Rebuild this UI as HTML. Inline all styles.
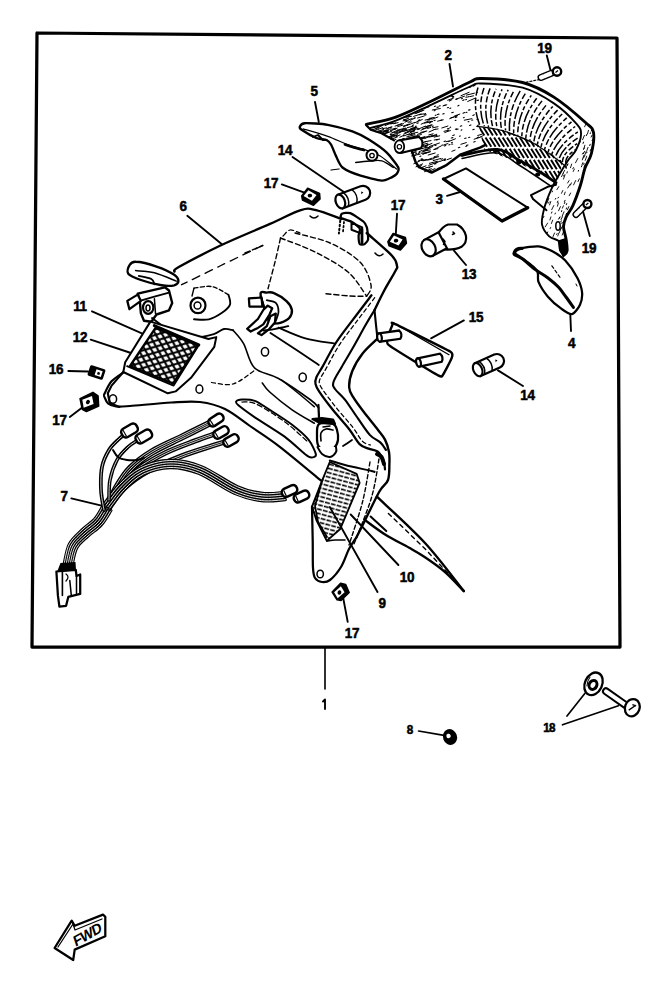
<!DOCTYPE html>
<html><head><meta charset="utf-8"><style>
html,body{margin:0;padding:0;background:#fff;width:671px;height:993px;overflow:hidden}
svg{position:absolute;left:0;top:0;font-family:"Liberation Sans",sans-serif}
</style></head><body>
<svg width="671" height="993" viewBox="0 0 671 993">
<defs><clipPath id="cfs"><path d="M479,127 L503.7,130 L532.3,141 L563,161.5 L557,183 L541.5,174.5 L514.7,161 L484,149.5 Z"/></clipPath><pattern id="mesh" patternUnits="userSpaceOnUse" width="9" height="7.2" patternTransform="rotate(22)"><path d="M-1,-0.8 L10,8 M10,-0.8 L-1,8" stroke="#000" stroke-width="2.0"/></pattern><pattern id="rmesh" patternUnits="userSpaceOnUse" width="6" height="4.2" patternTransform="rotate(15)"><path d="M0,2 L4.8,2" stroke="#000" stroke-width="1.6"/></pattern></defs>
<path d="M37.0,33.0 L617.0,38.0 L620.0,647.0 L32.0,647.0 Z" stroke="#000" stroke-width="3.25" fill="none" stroke-linecap="round" stroke-linejoin="round" />
<line x1="325.0" y1="647.0" x2="325.0" y2="689.0" stroke="#000" stroke-width="1.62" stroke-linecap="round" />
<path d="M323,701.5 L325,699.5 L325,709" stroke="#000" stroke-width="1.88" fill="none" stroke-linecap="round" stroke-linejoin="round" />
<text transform="translate(448.0,54.6) scale(0.9,1)" x="0" y="0" font-size="15" font-weight="bold" letter-spacing="-0.3" text-anchor="middle" dominant-baseline="central" stroke="#000" stroke-width="0.55">2</text>
<text transform="translate(544.5,47.6) scale(0.9,1)" x="0" y="0" font-size="15" font-weight="bold" letter-spacing="-0.3" text-anchor="middle" dominant-baseline="central" stroke="#000" stroke-width="0.55">19</text>
<text transform="translate(314.0,90.6) scale(0.9,1)" x="0" y="0" font-size="15" font-weight="bold" letter-spacing="-0.3" text-anchor="middle" dominant-baseline="central" stroke="#000" stroke-width="0.55">5</text>
<text transform="translate(285.0,149.6) scale(0.9,1)" x="0" y="0" font-size="15" font-weight="bold" letter-spacing="-0.3" text-anchor="middle" dominant-baseline="central" stroke="#000" stroke-width="0.55">14</text>
<text transform="translate(271.0,182.6) scale(0.9,1)" x="0" y="0" font-size="15" font-weight="bold" letter-spacing="-0.3" text-anchor="middle" dominant-baseline="central" stroke="#000" stroke-width="0.55">17</text>
<text transform="translate(398.0,204.6) scale(0.9,1)" x="0" y="0" font-size="15" font-weight="bold" letter-spacing="-0.3" text-anchor="middle" dominant-baseline="central" stroke="#000" stroke-width="0.55">17</text>
<text transform="translate(439.0,198.6) scale(0.9,1)" x="0" y="0" font-size="15" font-weight="bold" letter-spacing="-0.3" text-anchor="middle" dominant-baseline="central" stroke="#000" stroke-width="0.55">3</text>
<text transform="translate(183.0,205.6) scale(0.9,1)" x="0" y="0" font-size="15" font-weight="bold" letter-spacing="-0.3" text-anchor="middle" dominant-baseline="central" stroke="#000" stroke-width="0.55">6</text>
<text transform="translate(589.0,247.6) scale(0.9,1)" x="0" y="0" font-size="15" font-weight="bold" letter-spacing="-0.3" text-anchor="middle" dominant-baseline="central" stroke="#000" stroke-width="0.55">19</text>
<text transform="translate(469.0,273.6) scale(0.9,1)" x="0" y="0" font-size="15" font-weight="bold" letter-spacing="-0.3" text-anchor="middle" dominant-baseline="central" stroke="#000" stroke-width="0.55">13</text>
<text transform="translate(476.0,316.6) scale(0.9,1)" x="0" y="0" font-size="15" font-weight="bold" letter-spacing="-0.3" text-anchor="middle" dominant-baseline="central" stroke="#000" stroke-width="0.55">15</text>
<text transform="translate(571.7,342.6) scale(0.9,1)" x="0" y="0" font-size="15" font-weight="bold" letter-spacing="-0.3" text-anchor="middle" dominant-baseline="central" stroke="#000" stroke-width="0.55">4</text>
<text transform="translate(80.0,305.6) scale(0.9,1)" x="0" y="0" font-size="15" font-weight="bold" letter-spacing="-0.3" text-anchor="middle" dominant-baseline="central" stroke="#000" stroke-width="0.55">11</text>
<text transform="translate(80.0,336.6) scale(0.9,1)" x="0" y="0" font-size="15" font-weight="bold" letter-spacing="-0.3" text-anchor="middle" dominant-baseline="central" stroke="#000" stroke-width="0.55">12</text>
<text transform="translate(56.0,368.6) scale(0.9,1)" x="0" y="0" font-size="15" font-weight="bold" letter-spacing="-0.3" text-anchor="middle" dominant-baseline="central" stroke="#000" stroke-width="0.55">16</text>
<text transform="translate(59.5,419.6) scale(0.9,1)" x="0" y="0" font-size="15" font-weight="bold" letter-spacing="-0.3" text-anchor="middle" dominant-baseline="central" stroke="#000" stroke-width="0.55">17</text>
<text transform="translate(527.5,394.6) scale(0.9,1)" x="0" y="0" font-size="15" font-weight="bold" letter-spacing="-0.3" text-anchor="middle" dominant-baseline="central" stroke="#000" stroke-width="0.55">14</text>
<text transform="translate(64.0,495.6) scale(0.9,1)" x="0" y="0" font-size="15" font-weight="bold" letter-spacing="-0.3" text-anchor="middle" dominant-baseline="central" stroke="#000" stroke-width="0.55">7</text>
<text transform="translate(407.0,576.6) scale(0.9,1)" x="0" y="0" font-size="15" font-weight="bold" letter-spacing="-0.3" text-anchor="middle" dominant-baseline="central" stroke="#000" stroke-width="0.55">10</text>
<text transform="translate(382.0,602.6) scale(0.9,1)" x="0" y="0" font-size="15" font-weight="bold" letter-spacing="-0.3" text-anchor="middle" dominant-baseline="central" stroke="#000" stroke-width="0.55">9</text>
<text transform="translate(352.0,632.6) scale(0.9,1)" x="0" y="0" font-size="15" font-weight="bold" letter-spacing="-0.3" text-anchor="middle" dominant-baseline="central" stroke="#000" stroke-width="0.55">17</text>
<text transform="translate(410.0,730.1) scale(0.9,1)" x="0" y="0" font-size="13" font-weight="bold" letter-spacing="0" text-anchor="middle" dominant-baseline="central" stroke="#000" stroke-width="0.55">8</text>
<text transform="translate(549.0,727.6) scale(0.9,1)" x="0" y="0" font-size="13" font-weight="bold" letter-spacing="-0.8" text-anchor="middle" dominant-baseline="central" stroke="#000" stroke-width="0.55">18</text>
<line x1="449.5" y1="64.0" x2="453.0" y2="86.5" stroke="#000" stroke-width="1.88" stroke-linecap="round" />
<line x1="546.8" y1="55.5" x2="550.4" y2="69.8" stroke="#000" stroke-width="1.88" stroke-linecap="round" />
<line x1="315.0" y1="102.0" x2="318.8" y2="122.0" stroke="#000" stroke-width="1.88" stroke-linecap="round" />
<line x1="292.5" y1="157.0" x2="345.0" y2="192.7" stroke="#000" stroke-width="1.88" stroke-linecap="round" />
<line x1="281.8" y1="184.4" x2="304.4" y2="192.7" stroke="#000" stroke-width="1.88" stroke-linecap="round" />
<line x1="397.0" y1="213.7" x2="395.8" y2="234.0" stroke="#000" stroke-width="1.88" stroke-linecap="round" />
<line x1="447.0" y1="195.8" x2="460.0" y2="192.0" stroke="#000" stroke-width="1.88" stroke-linecap="round" />
<line x1="187.3" y1="215.8" x2="221.6" y2="244.0" stroke="#000" stroke-width="1.88" stroke-linecap="round" />
<line x1="582.6" y1="210.0" x2="589.8" y2="236.0" stroke="#000" stroke-width="1.88" stroke-linecap="round" />
<line x1="454.0" y1="250.7" x2="466.0" y2="265.0" stroke="#000" stroke-width="1.88" stroke-linecap="round" />
<line x1="463.9" y1="320.4" x2="431.1" y2="338.3" stroke="#000" stroke-width="1.88" stroke-linecap="round" />
<line x1="570.3" y1="314.3" x2="571.0" y2="331.0" stroke="#000" stroke-width="1.88" stroke-linecap="round" />
<line x1="92.0" y1="311.3" x2="156.0" y2="339.6" stroke="#000" stroke-width="1.88" stroke-linecap="round" />
<line x1="90.7" y1="339.6" x2="131.0" y2="353.0" stroke="#000" stroke-width="1.88" stroke-linecap="round" />
<line x1="68.3" y1="371.0" x2="88.0" y2="371.5" stroke="#000" stroke-width="1.88" stroke-linecap="round" />
<line x1="69.8" y1="417.0" x2="83.2" y2="406.7" stroke="#000" stroke-width="1.88" stroke-linecap="round" />
<line x1="498.0" y1="370.4" x2="523.0" y2="386.0" stroke="#000" stroke-width="1.88" stroke-linecap="round" />
<line x1="71.3" y1="498.4" x2="102.6" y2="505.8" stroke="#000" stroke-width="1.88" stroke-linecap="round" />
<line x1="398.4" y1="565.0" x2="350.7" y2="514.5" stroke="#000" stroke-width="1.88" stroke-linecap="round" />
<line x1="377.5" y1="592.0" x2="329.8" y2="507.0" stroke="#000" stroke-width="1.88" stroke-linecap="round" />
<line x1="347.7" y1="621.8" x2="343.2" y2="598.0" stroke="#000" stroke-width="1.88" stroke-linecap="round" />
<line x1="418.6" y1="731.0" x2="444.0" y2="735.4" stroke="#000" stroke-width="1.69" stroke-linecap="round" />
<line x1="567.0" y1="716.0" x2="584.8" y2="693.5" stroke="#000" stroke-width="1.69" stroke-linecap="round" />
<line x1="562.5" y1="724.8" x2="618.4" y2="705.8" stroke="#000" stroke-width="1.69" stroke-linecap="round" />
<path d="M394.7,133.1L401.1,131.3 M411.6,155.9L420.1,154.1 M417.7,140.5L423.4,138.5 M406.7,136.9L414.9,134.7 M432.3,110.0L440.3,108.5 M415.7,138.4L418.9,137.7 M414.9,136.3L421.4,134.5 M420.5,145.1L427.5,143.3 M397.1,125.3L401.7,123.6 M404.2,117.5L408.7,115.9 M433.7,149.6L437.9,148.6 M418.1,146.7L422.8,145.0 M414.4,122.9L422.3,119.5 M423.2,153.9L427.2,152.7 M440.4,161.3L444.7,159.6 M378.3,129.3L382.8,127.6 M382.4,134.3L387.2,132.1 M410.6,128.7L415.9,127.2 M429.3,146.5L434.6,144.7 M467.7,101.5L475.0,98.2 M425.5,148.1L432.8,146.6 M433.3,158.1L437.1,156.6 M410.2,120.3L415.2,118.0 M424.5,171.7L431.3,168.7 M391.3,136.5L395.6,135.3 M421.6,138.0L429.4,136.2 M404.9,122.2L408.1,120.8 M434.7,144.7L439.4,143.0 M411.2,153.1L415.8,151.8 M444.8,132.5L450.4,130.5 M371.9,130.0L379.1,127.4 M405.2,121.1L412.3,118.4 M428.8,134.9L433.2,133.8 M411.1,133.6L417.8,132.3 M424.8,141.8L431.0,140.6 M377.2,132.3L382.0,131.2 M419.0,151.8L422.3,150.3 M386.1,129.1L392.0,127.0 M411.1,131.8L415.1,129.9 M385.1,125.6L389.1,123.9 M388.4,127.9L391.4,126.9 M414.8,147.2L419.9,145.4 M421.8,167.5L426.0,165.8 M480.0,137.1L482.9,135.8 M437.7,168.4L442.4,167.4 M422.1,108.9L429.1,106.8 M406.2,117.3L411.5,116.3 M443.0,105.9L446.8,104.8 M392.2,134.9L399.5,132.8 M461.0,95.7L469.1,92.3 M390.9,133.3L397.6,130.2 M407.2,127.7L413.3,126.2 M421.6,153.4L430.4,151.7 M403.0,120.9L406.8,120.0 M403.4,126.1L409.3,124.0 M383.9,131.9L387.5,130.2 M413.6,116.4L421.1,113.9 M402.7,131.1L410.6,129.4 M474.1,139.2L480.2,137.3 M405.2,119.5L408.7,118.1 M375.9,131.7L383.7,129.5 M446.2,141.7L449.4,140.9 M429.2,118.4L434.4,117.4 M424.7,146.9L427.6,145.8 M420.7,132.4L426.8,131.0 M389.9,138.2L397.3,135.1 M466.4,95.1L474.4,93.2 M424.7,150.1L431.1,147.6 M418.5,139.3L423.9,138.1 M429.4,163.3L437.4,161.3 M425.1,120.1L431.8,118.6 M411.9,130.2L418.4,128.4 M434.9,163.5L439.8,161.2 M422.0,160.4L426.6,159.5 M444.0,131.3L448.7,130.3 M383.4,131.7L388.4,130.5 M416.4,113.2L424.0,110.1 M393.7,123.7L398.1,122.6 M428.0,160.0L434.1,158.7 M418.1,129.2L425.4,126.1 M432.0,119.3L437.9,117.0 M392.0,129.3L395.5,128.2 M427.4,120.0L431.8,118.4 M421.2,124.2L429.2,120.7 M433.9,129.6L438.1,128.9 M397.5,130.1L405.5,128.1 M424.7,146.3L432.0,143.4 M431.4,136.5L434.4,135.2 M450.8,117.8L456.9,116.2 M423.1,150.3L429.1,148.6 M470.1,96.6L473.5,95.8 M447.7,100.2L453.4,98.1 M419.5,143.8L423.6,142.4 M403.7,136.0L409.9,133.6 M428.7,122.2L432.0,121.4 M382.5,128.7L386.9,127.8 M403.3,126.9L407.7,124.9 M416.4,147.8L421.4,146.1 M397.7,126.6L402.7,125.2 M396.0,136.7L400.1,134.9 M415.0,113.6L422.9,110.4 M392.8,132.9L397.9,131.2 M404.6,133.0L409.2,131.2 M422.7,154.2L429.9,151.8 M427.2,159.9L432.1,158.1 M422.6,128.7L428.3,127.2 M425.6,167.9L432.6,166.2 M429.0,171.3L435.0,168.6 M406.6,138.4L415.0,136.1 M419.9,143.5L426.3,141.5 M375.7,128.4L382.4,125.6 M433.0,135.9L436.7,134.3 M460.9,144.3L466.3,142.6 M410.9,132.2L413.6,130.9 M448.5,141.6L455.4,138.8 M415.5,147.1L423.9,145.3 M447.0,159.7L451.4,158.1 M407.6,140.3L415.0,136.6 M441.8,128.0L447.9,126.0 M434.0,157.6L438.7,156.7 M418.2,141.4L422.8,140.5 M433.2,160.6L440.7,158.5 M380.8,131.5L389.2,129.6 M421.9,152.1L427.6,149.7 M432.6,127.8L438.0,126.7 M380.8,133.4L386.9,131.1 M434.2,140.0L439.6,139.1 M390.7,123.9L395.7,122.9 M395.0,126.1L403.5,123.6 M415.3,138.1L419.5,136.6 M420.8,147.6L428.1,144.3 M385.1,133.8L392.0,131.1 M390.2,130.7L395.8,129.1 M440.4,167.5L444.4,166.8 M428.2,155.0L435.2,153.0 M411.7,128.5L416.4,127.3 M456.2,99.1L464.5,96.2 M423.2,151.2L430.4,149.9 M417.6,134.4L425.8,131.4 M423.1,160.8L427.1,159.9 M419.2,114.8L423.4,113.9 M382.7,134.1L388.5,132.2 M464.3,120.2L471.9,118.7 M389.3,123.9L393.0,122.7 M410.2,132.5L414.7,130.8 M418.6,160.6L423.2,159.5 M400.4,139.9L403.5,138.6 M410.5,130.1L417.0,127.5 M454.5,116.0L459.8,114.1 M413.3,138.2L418.8,136.6 M374.8,130.3L378.6,128.8 M400.8,131.1L405.6,129.3 M393.8,129.2L397.2,128.2 M429.1,137.1L437.1,135.4 M434.4,149.3L441.3,145.9 M409.8,138.3L417.6,136.4 M425.5,126.7L432.2,125.0 M399.8,137.2L403.9,135.3 M407.7,131.5L415.6,127.9 M414.7,150.9L419.0,149.2 M408.1,135.0L414.5,133.6 M391.0,139.3L397.4,136.9 M411.7,151.9L415.5,150.0 M451.9,151.3L455.1,150.1 M389.9,136.4L394.9,135.3 M428.8,165.3L437.2,162.2 M477.7,135.5L481.7,134.3 M416.0,166.8L422.6,163.9 M429.0,132.0L435.2,129.2 M397.8,130.8L406.4,128.5 M424.8,138.5L432.6,135.2 M426.1,126.7L431.5,124.8 M424.4,123.1L432.6,121.6 M407.3,125.3L414.5,122.5 M413.8,163.7L420.0,160.9 M398.9,140.2L404.4,138.5 M403.6,134.2L409.7,131.6 M420.9,130.2L428.4,127.1 M399.9,131.9L407.3,130.5 M417.5,118.0L424.3,116.0 M416.3,147.0L422.4,145.1 M413.5,148.4L417.3,147.5 M443.6,145.0L447.9,143.6 M434.2,137.1L439.7,135.8 M418.4,149.6L427.0,147.2 M417.3,138.8L424.7,136.7 M437.6,121.2L443.2,119.8 M427.6,128.5L430.7,127.4 M449.7,118.7L453.8,117.0 M388.3,137.0L392.8,135.2" stroke="#000" stroke-width="1.0" stroke-linecap="round" fill="none"/>
<path d="M451.5,94.7L452.6,94.5 M451.0,96.3L452.7,95.9 M451.7,112.7L453.3,112.2 M465.7,99.8L466.5,99.4 M432.2,126.4L433.3,126.0 M420.1,148.4L421.3,148.1 M455.8,99.4L457.0,99.1 M410.9,134.8L411.9,134.6 M408.1,116.4L409.6,115.7 M414.7,152.3L416.4,152.0 M461.0,90.7L462.1,90.4 M447.4,107.8L448.5,107.5 M455.2,120.5L456.0,120.3 M399.2,132.5L400.8,132.0 M462.8,100.4L464.1,99.8 M455.4,117.6L456.8,117.1 M421.1,160.4L422.5,159.8 M421.1,159.1L422.3,158.7 M452.6,97.3L453.8,96.9 M435.1,145.5L436.1,145.2 M434.1,120.6L435.2,120.2 M434.3,156.8L435.3,156.4 M417.7,129.6L419.4,129.0 M472.8,129.8L474.2,129.2 M477.5,125.4L479.2,124.8 M420.0,166.2L421.3,165.6 M387.3,131.6L388.3,131.2 M463.0,113.2L464.6,112.6 M434.4,106.5L435.6,106.1 M457.8,105.9L459.0,105.3 M464.7,138.5L466.1,138.0 M419.9,156.5L420.9,156.1 M419.0,152.7L419.9,152.4 M469.1,87.5L470.8,87.0 M424.1,138.1L425.4,137.8 M441.8,145.2L442.7,145.0 M418.2,153.5L419.3,153.1 M439.3,106.0L440.2,105.7 M451.7,144.2L452.7,144.0 M465.8,146.5L466.7,146.1 M436.5,140.0L437.6,139.7 M413.9,118.2L415.0,117.9 M468.6,110.0L469.4,109.7 M456.7,115.6L457.5,115.5 M455.3,129.2L456.9,128.8 M414.0,155.8L415.2,155.5 M395.1,139.5L395.9,139.3 M390.3,134.6L391.9,134.3 M468.1,121.8L468.9,121.6 M416.9,123.3L418.2,122.9 M459.4,136.2L460.3,135.9 M437.4,114.5L439.0,114.1 M408.0,122.2L409.5,121.8 M442.8,114.0L444.1,113.6 M472.8,115.4L474.3,114.8 M476.3,92.6L477.4,92.3 M451.4,142.8L452.3,142.4 M452.6,96.8L453.5,96.6 M409.9,122.2L411.2,121.9 M474.3,85.1L475.3,84.9 M396.4,135.0L397.6,134.8 M435.2,115.4L436.1,115.1 M458.4,147.7L459.8,147.2 M476.9,119.5L478.2,119.3 M460.2,126.2L461.8,125.8 M403.5,119.7L405.0,119.2 M410.4,131.7L411.2,131.4 M405.3,129.8L406.4,129.6 M461.2,130.2L461.9,129.8 M448.8,144.9L450.0,144.5 M417.9,138.5L419.1,138.0 M477.0,100.5L478.5,100.1 M465.9,97.3L466.7,97.0 M463.4,117.7L464.2,117.4 M429.6,126.2L430.5,126.0 M449.8,108.4L450.8,108.0 M466.0,112.6L467.0,112.2 M449.9,127.4L450.7,127.1 M443.9,105.5L445.4,105.0 M441.1,159.3L442.7,158.7 M451.3,138.0L452.9,137.6 M468.7,137.6L469.8,137.2 M429.5,123.1L430.6,122.6 M424.9,115.1L426.2,114.7 M477.1,137.7L478.7,137.1 M424.0,114.3L425.6,113.6 M412.2,125.4L413.4,124.9 M390.3,129.1L391.2,128.7 M413.7,131.1L414.5,130.7 M428.9,167.9L429.8,167.6 M437.0,107.4L438.5,107.0 M434.2,110.8L435.1,110.5 M418.2,120.4L419.8,119.7 M467.8,97.1L469.2,96.6 M415.3,126.5L416.2,126.1 M466.6,145.4L468.0,145.0 M425.9,170.4L427.0,170.1 M444.3,159.2L445.4,158.9 M469.5,125.4L470.9,124.9 M371.8,129.7L372.7,129.5 M447.4,128.9L449.1,128.6 M449.3,100.9L450.7,100.2 M444.4,146.0L445.8,145.5 M473.3,86.1L474.5,85.5 M450.8,100.0L451.9,99.7 M444.1,160.5L445.5,159.9 M444.1,159.9L444.9,159.7 M415.3,154.0L416.6,153.6 M444.1,141.6L445.6,141.1 M461.4,98.8L462.4,98.4 M434.5,164.0L435.9,163.6 M473.8,142.1L475.2,141.5 M402.2,139.9L403.3,139.6 M468.8,110.2L470.1,109.7 M430.5,121.6L431.6,121.4 M471.7,120.2L472.8,120.0 M456.7,129.6L458.1,129.1 M452.8,135.5L454.3,134.9 M436.9,155.2L438.4,154.8 M440.8,120.3L441.7,119.9" stroke="#000" stroke-width="1.1" stroke-linecap="round" fill="none"/>
<g stroke="#000" stroke-width="1.5" fill="none" stroke-dasharray="13 2 6 2.5 4 2"><path d="M478.0,87.5Q472.0,106.5 480.0,125.5" stroke-dashoffset="4.6"/><path d="M484.0,88.0Q477.2,107.1 484.3,126.2" stroke-dashoffset="6.4"/><path d="M490.1,88.4Q482.3,107.7 488.6,126.9" stroke-dashoffset="6.6"/><path d="M496.1,88.9Q487.5,108.3 492.9,127.6" stroke-dashoffset="12.4"/><path d="M502.1,89.4Q492.7,108.8 497.2,128.3" stroke-dashoffset="19.2"/><path d="M508.2,89.9Q497.8,109.4 501.5,129.0" stroke-dashoffset="11.3"/><path d="M514.2,90.3Q502.9,110.4 505.6,130.5" stroke-dashoffset="13.3"/><path d="M520.2,90.8Q507.9,111.5 509.6,132.2" stroke-dashoffset="0.2"/><path d="M525.9,92.7Q512.8,113.2 513.7,133.8" stroke-dashoffset="13.9"/><path d="M531.3,95.4Q517.5,115.4 517.7,135.4" stroke-dashoffset="10.7"/><path d="M536.7,98.2Q522.2,117.6 521.8,137.0" stroke-dashoffset="15.6"/><path d="M542.0,100.9Q526.9,119.8 525.8,138.6" stroke-dashoffset="7.0"/><path d="M547.4,103.7Q531.6,122.0 529.9,140.3" stroke-dashoffset="12.9"/><path d="M552.8,106.4Q536.3,124.3 533.8,142.1" stroke-dashoffset="10.2"/><path d="M557.6,110.1Q540.5,127.3 537.4,144.5" stroke-dashoffset="15.6"/><path d="M562.2,114.0Q544.6,130.5 541.0,147.0" stroke-dashoffset="8.7"/><path d="M566.8,117.9Q548.7,133.7 544.6,149.5" stroke-dashoffset="16.5"/><path d="M571.5,121.8Q552.8,136.9 548.1,152.0" stroke-dashoffset="17.4"/><path d="M575.2,126.5Q556.4,140.5 551.7,154.5" stroke-dashoffset="10.6"/><path d="M577.8,131.9Q559.5,144.4 555.3,157.0" stroke-dashoffset="10.0"/><path d="M578.4,137.6Q561.6,148.5 558.9,159.5" stroke-dashoffset="14.1"/><path d="M577.2,143.6Q562.8,152.8 562.4,162.0" stroke-dashoffset="10.4"/><path d="M576.0,149.5Q564.0,157.0 566.0,164.5" stroke-dashoffset="19.4"/></g>
<g clip-path="url(#cfs)"><path d="M420.0,115.0L466.5,190.0 M424.3,115.0L470.8,190.0 M428.6,115.0L475.1,190.0 M432.9,115.0L479.4,190.0 M437.2,115.0L483.7,190.0 M441.5,115.0L488.0,190.0 M445.8,115.0L492.3,190.0 M450.1,115.0L496.6,190.0 M454.4,115.0L500.9,190.0 M458.7,115.0L505.2,190.0 M463.0,115.0L509.5,190.0 M467.3,115.0L513.8,190.0 M471.6,115.0L518.1,190.0 M475.9,115.0L522.4,190.0 M480.2,115.0L526.7,190.0 M484.5,115.0L531.0,190.0 M488.8,115.0L535.3,190.0 M493.1,115.0L539.6,190.0 M497.4,115.0L543.9,190.0 M501.7,115.0L548.2,190.0 M506.0,115.0L552.5,190.0 M510.3,115.0L556.8,190.0 M514.6,115.0L561.1,190.0 M518.9,115.0L565.4,190.0 M523.2,115.0L569.7,190.0 M527.5,115.0L574.0,190.0 M531.8,115.0L578.3,190.0 M536.1,115.0L582.6,190.0 M540.4,115.0L586.9,190.0 M544.7,115.0L591.2,190.0 M549.0,115.0L595.5,190.0 M553.3,115.0L599.8,190.0 M557.6,115.0L604.1,190.0 M561.9,115.0L608.4,190.0" stroke="#000" stroke-width="1.9" fill="none" stroke-dasharray="11 2.2"/></g>
<path d="M573.2,171.5L574.4,169.0 M545.2,226.9L547.6,223.1 M558.6,210.8L560.4,206.6 M583.4,158.1L584.8,155.7 M562.2,216.1L564.0,211.8 M582.6,139.7L584.4,135.4 M547.0,203.0L548.8,198.4 M549.6,204.9L550.8,201.5 M553.0,236.6L554.6,233.0 M575.5,162.8L577.8,158.5 M549.9,220.0L550.9,216.9 M586.9,150.5L588.0,147.4 M567.7,188.0L570.1,184.3 M562.2,235.0L563.2,232.5 M570.5,167.7L571.7,164.1 M583.4,153.7L584.6,151.4 M551.4,223.5L552.6,220.2 M556.9,189.7L558.8,186.6 M561.0,219.6L562.4,216.7 M561.5,176.6L563.3,173.4 M587.4,134.0L588.5,130.3 M565.6,168.0L567.7,164.0 M557.4,206.2L558.4,202.9 M578.0,181.6L579.3,178.8 M559.4,232.5L561.2,228.1 M582.0,164.6L582.9,162.6 M582.3,159.9L583.8,155.4 M560.5,229.3L562.9,225.6 M570.4,185.1L571.4,182.9 M585.2,160.4L586.7,156.2 M591.1,137.1L592.1,135.1 M562.4,208.2L563.4,205.8 M569.2,195.7L570.6,193.0 M558.5,219.2L559.5,217.4 M567.4,209.8L568.9,206.5 M563.5,179.1L565.0,174.7 M584.6,155.4L586.3,151.3 M573.6,184.9L575.7,180.5 M567.6,183.0L569.1,180.6 M551.7,209.7L553.8,205.5 M590.1,150.9L592.4,146.8 M563.0,173.4L564.6,170.4 M564.3,194.7L565.2,192.1 M584.6,126.8L586.4,122.9 M576.8,148.0L578.3,144.1 M561.5,193.3L562.8,190.5 M557.7,235.9L558.9,233.0 M584.1,167.1L585.1,164.5 M572.3,155.8L573.8,152.6 M583.6,149.3L584.9,145.2" stroke="#000" stroke-width="0.9" stroke-linecap="round" fill="none"/>
<path d="M567.0,173.0L567.3,171.8 M586.5,153.0L587.0,152.2 M590.2,133.6L590.5,132.8 M582.5,154.0L583.2,152.8 M566.1,214.2L566.6,213.4 M567.4,165.4L567.9,164.1 M589.7,145.6L590.2,144.3 M583.8,149.1L584.4,147.9 M583.1,143.4L583.5,142.1 M583.4,164.4L584.1,163.3 M581.4,166.8L582.0,165.5 M547.2,233.0L547.7,232.0 M566.2,209.0L566.6,207.9 M558.0,198.0L558.5,197.2 M578.3,171.2L578.5,170.4 M556.6,234.4L557.1,233.6 M544.3,209.5L544.8,208.5 M543.5,217.4L543.9,216.4 M572.8,168.8L573.5,167.6 M550.2,228.5L550.6,227.6 M561.8,223.3L562.2,222.4 M548.5,203.1L549.1,202.1 M586.3,135.7L586.7,134.6 M592.1,140.5L592.7,139.4 M552.2,191.9L552.5,191.1 M564.4,203.5L564.9,202.2 M566.3,204.6L566.7,203.6 M560.8,221.8L561.3,220.8 M583.2,172.9L583.6,172.1 M557.3,202.5L557.9,201.1 M563.6,176.1L564.0,175.2 M564.4,201.5L565.1,200.3 M559.5,218.2L560.0,216.9 M591.3,130.9L591.7,130.2 M561.5,211.6L561.8,210.6 M555.3,199.2L555.8,198.3 M552.7,186.9L553.3,185.5 M555.0,214.0L555.4,213.1 M579.9,142.4L580.3,141.7 M551.5,213.1L551.9,212.0" stroke="#000" stroke-width="1.0" stroke-linecap="round" fill="none"/>
<path d="M366.3,124.3 C371.2,123.1 384.9,121.0 395.8,117.1 C406.7,113.2 419.2,106.8 431.6,101.0 C444.0,95.2 461.6,85.8 470.0,82.0 C478.4,78.2 473.2,78.4 482.0,78.5 C490.8,78.6 510.6,79.4 522.6,82.5 C534.6,85.6 543.5,90.5 553.9,97.1 C564.3,103.7 578.6,116.3 585.2,122.2 C591.8,128.1 592.5,127.4 593.5,132.6 C594.5,137.8 592.8,147.6 591.4,153.5 C590.0,159.4 586.8,162.8 585.0,168.0 C583.2,173.2 582.5,178.8 580.5,185.0 C578.5,191.2 575.4,199.9 573.0,205.3 C570.6,210.7 567.6,213.7 566.0,217.3 C564.4,220.9 563.5,223.2 563.5,226.8 C563.5,230.4 565.4,234.8 566.0,238.8 C566.6,242.8 567.5,247.9 567.1,250.7 C566.7,253.5 564.1,254.7 563.5,255.5" stroke="#000" stroke-width="2.88" fill="none" stroke-linecap="round" stroke-linejoin="round" />
<path d="M370.7,127.9 C374.9,126.7 385.6,124.6 395.8,120.7 C406.0,116.8 419.2,110.3 431.6,104.6 C444.0,98.9 461.6,90.0 470.0,86.5 C478.4,83.0 473.2,83.3 482.0,83.5 C490.8,83.7 510.6,84.4 522.6,87.7 C534.6,91.0 544.9,97.3 553.9,103.4 C562.9,109.5 572.3,119.0 576.8,124.2 C581.3,129.4 581.1,130.4 581.0,134.7 C580.9,139.0 578.1,145.8 576.0,150.0 C573.9,154.2 571.1,155.8 568.3,160.0 C565.5,164.2 561.8,170.2 559.0,175.0 C556.2,179.8 554.0,183.2 551.6,188.6 C549.2,194.0 546.0,201.7 544.4,207.7 C542.8,213.7 541.2,219.6 542.0,224.4 C542.8,229.2 546.4,233.6 549.2,236.4 C552.0,239.2 557.0,238.8 558.8,241.1 C560.6,243.4 559.2,247.6 560.0,250.0 C560.8,252.4 562.9,254.6 563.5,255.5" stroke="#000" stroke-width="1.88" fill="none" stroke-linecap="round" stroke-linejoin="round" />
<path d="M476.7,126.3 C480.9,127.0 492.3,127.7 501.7,130.5 C511.1,133.3 523.3,137.8 533.0,143.0 C542.7,148.2 554.5,157.6 560.1,161.8 C565.7,166.0 565.4,167.0 566.4,168.0" stroke="#000" stroke-width="1.25" fill="none" stroke-linecap="round" stroke-linejoin="round" />
<path d="M461.5,155.4 C467.4,154.4 487.7,148.6 497.2,149.4 C506.7,150.2 511.6,156.2 518.7,160.0 C525.8,163.8 533.8,168.2 540.0,172.0 C546.2,175.8 553.3,180.9 556.0,182.7" stroke="#000" stroke-width="2.75" fill="none" stroke-linecap="round" stroke-linejoin="round" />
<path d="M462.0,158.5 C467.8,157.6 487.2,151.8 497.0,153.0 C506.8,154.2 511.4,160.4 520.5,166.0 C529.6,171.6 546.6,183.3 551.8,186.8" stroke="#000" stroke-width="1.50" fill="none" stroke-linecap="round" stroke-linejoin="round" />
<ellipse cx="497" cy="150.5" rx="2.6" ry="2" fill="#000"/>
<ellipse cx="518.7" cy="162.5" rx="2.6" ry="2" fill="#000"/>
<ellipse cx="537.7" cy="174.4" rx="2.6" ry="2" fill="#000"/>
<path d="M366.3,125.2 L370.7,129.7 L381.5,133.2 L394.0,140.4" stroke="#000" stroke-width="2.25" fill="none" stroke-linecap="round" stroke-linejoin="round" />
<path d="M411.9,151.1 L415.5,161.9 L419.0,167.2 L431.6,172.6 L445.9,165.4 L460.2,154.7 L480.0,147.6 L485.0,145.1" stroke="#000" stroke-width="2.50" fill="none" stroke-linecap="round" stroke-linejoin="round" />
<path d="M399,140.5 L419,137 Q425,142 421,148 L401,153" stroke="#000" stroke-width="2.00" fill="#fff" stroke-linecap="round" stroke-linejoin="round" />
<ellipse cx="399.4" cy="146.7" rx="4.8" ry="6.3" stroke="#000" stroke-width="1.8" fill="#fff"/>
<circle cx="399.4" cy="146.7" r="2.2" stroke="#000" stroke-width="1.2" fill="none"/>
<path d="M556.0,184.8 L547.6,186.8 L531.0,195.2 L533.0,199.0 L546.5,210.2" stroke="#000" stroke-width="2.00" fill="none" stroke-linecap="round" stroke-linejoin="round" />
<ellipse cx="558" cy="226" rx="2.2" ry="4.2" stroke="#000" stroke-width="1.5" fill="#fff"/>
<path d="M558.8,241.1 L566,238.8 L567.1,250.7 L563.5,255.5 L560,250 Z" stroke="#000" stroke-width="1.88" fill="#000" stroke-linecap="round" stroke-linejoin="round" />
<line x1="541" y1="77.5" x2="552" y2="73" stroke="#000" stroke-width="7.0" stroke-linecap="round"/>
<line x1="541" y1="77.5" x2="552" y2="73" stroke="#fff" stroke-width="4.2" stroke-linecap="round" stroke-dasharray="2.5 1.5"/>
<circle cx="557" cy="71.5" r="4.2" stroke="#000" stroke-width="2.4" fill="#fff"/>
<path d="M555.5,72.5 l2.5,-2" stroke="#000" stroke-width="1.2"/>
<line x1="539.7" y1="79.4" x2="523.0" y2="83.0" stroke="#000" stroke-width="1.25" stroke-linecap="round" stroke-dasharray="2 2"/>
<line x1="576" y1="214.5" x2="584" y2="206.5" stroke="#000" stroke-width="7.0" stroke-linecap="round"/>
<line x1="576" y1="214.5" x2="584" y2="206.5" stroke="#fff" stroke-width="4.2" stroke-linecap="round" stroke-dasharray="2.5 1.5"/>
<circle cx="587.4" cy="204" r="4.0" stroke="#000" stroke-width="2.4" fill="#fff"/>
<path d="M585.9,205 l2.5,-2" stroke="#000" stroke-width="1.2"/>
<path d="M443.5,179.0 L466.0,168.4 L527.7,207.7 L502.0,221.0 Z" stroke="#000" stroke-width="2.00" fill="#fff" stroke-linecap="round" stroke-linejoin="round" />
<path d="M443.5,179.0 L502.0,221.0 L527.7,207.7" stroke="#000" stroke-width="3.25" fill="none" stroke-linecap="round" stroke-linejoin="round" />
<path d="M514.4,252.4 C515.3,251.5 517.8,249.2 521.0,248.4 C524.2,247.6 534.4,246.0 538.5,246.4 C542.6,246.8 548.3,249.2 551.9,251.1 C555.5,253.0 561.9,256.9 565.3,260.5 C568.7,264.1 575.2,273.6 577.4,277.9 C579.6,282.2 581.8,289.0 582.1,292.6 C582.4,296.2 581.3,301.8 580.0,304.7 C578.7,307.6 574.5,313.6 572.0,314.1 C569.5,314.6 564.5,311.0 561.3,308.7 C558.1,306.4 550.9,300.3 547.9,296.7 C544.9,293.1 539.9,285.3 538.5,281.9 C537.1,278.5 539.0,274.1 537.2,271.2 C535.4,268.3 528.1,262.6 525.1,260.5 C522.1,258.4 515.8,256.2 514.4,255.1 C513.0,254.0 513.5,253.3 514.4,252.4 Z" stroke="#000" stroke-width="2.25" fill="#fff" stroke-linecap="round" stroke-linejoin="round" />
<path d="M514.4,253.5 C515.7,254.3 518.4,255.8 522.0,258.5 C525.6,261.2 531.5,266.6 535.8,269.9 C540.1,273.1 544.2,275.1 548.0,278.0 C551.8,280.9 555.6,284.1 558.6,287.3 C561.6,290.5 563.5,293.6 566.0,297.0 C568.5,300.4 572.2,305.7 573.4,307.4" stroke="#000" stroke-width="3.00" fill="none" stroke-linecap="round" stroke-linejoin="round" />
<path d="M514.4,252.4 Q516,248 522,248.4" stroke="#000" stroke-width="3.25" fill="none" stroke-linecap="round" stroke-linejoin="round" />
<path d="M551.9,265.8 L561.3,279.2" stroke="#000" stroke-width="1.25" fill="none" stroke-linecap="round" stroke-linejoin="round" stroke-dasharray="3 2.5"/>
<path d="M576,284 l1,2" stroke="#000" stroke-width="1.00" fill="none" stroke-linecap="round" stroke-linejoin="round" />
<path d="M299.9,126.5 C300.3,125.7 301.5,123.4 304.8,123.2 C308.1,123.0 322.2,123.8 327.8,124.8 C333.4,125.8 347.6,129.7 352.4,131.4 C357.2,133.1 364.8,137.1 368.8,139.6 C372.8,142.1 383.4,149.4 386.8,152.7 C390.2,156.0 397.2,165.0 398.3,167.5 C399.4,170.0 397.4,172.9 396.6,174.0 C395.8,175.1 393.4,176.5 391.7,177.3 C390.0,178.1 385.5,180.8 381.9,180.6 C378.3,180.4 365.2,177.2 360.6,175.7 C356.0,174.2 345.4,169.8 342.5,167.5 C339.6,165.2 337.3,158.7 336.0,156.0 C334.7,153.3 332.1,146.4 331.0,144.5 C329.9,142.6 328.2,140.8 326.5,140.0 C324.8,139.2 319.2,139.2 316.3,138.0 C313.4,136.8 303.5,131.1 301.6,129.8 C299.7,128.5 299.5,127.3 299.9,126.5 Z" stroke="#000" stroke-width="2.38" fill="#fff" stroke-linecap="round" stroke-linejoin="round" />
<path d="M303.2,128.9 C307.3,130.1 320.4,133.7 327.8,136.3 C335.2,138.9 341.5,142.3 347.5,144.5 C353.5,146.7 358.4,147.5 363.9,149.4 C369.3,151.3 374.8,152.7 380.2,156.0 C385.6,159.3 393.9,166.9 396.6,169.1" stroke="#000" stroke-width="1.25" fill="none" stroke-linecap="round" stroke-linejoin="round" />
<path d="M345.0,144.5 C346.8,145.1 352.8,147.1 356.0,148.0 C359.2,148.9 362.7,149.7 364.0,150.0" stroke="#000" stroke-width="2.75" fill="none" stroke-linecap="round" stroke-linejoin="round" />
<path d="M313.0,137.0 L318.0,135.0 L323.0,140.0 L326.5,140.0" stroke="#000" stroke-width="1.88" fill="none" stroke-linecap="round" stroke-linejoin="round" />
<circle cx="372" cy="155.2" r="5.5" stroke="#000" stroke-width="2" fill="#fff"/>
<circle cx="372" cy="155.5" r="2.2" stroke="#000" stroke-width="1.3" fill="none"/>
<path d="M355.7,162.5 C358.1,162.2 365.6,161.3 370.0,161.0 C374.4,160.7 378.0,159.8 381.9,160.9 C385.8,162.0 391.5,166.4 393.4,167.5" stroke="#000" stroke-width="1.38" fill="none" stroke-linecap="round" stroke-linejoin="round" />
<path d="M331,170 L339,169" stroke="#000" stroke-width="1.25" fill="none" stroke-linecap="round" stroke-linejoin="round" />
<path d="M174.4,271.6 C175.2,270.8 171.4,271.2 179.2,266.8 C187.0,262.4 205.9,252.5 221.0,245.3 C236.1,238.2 256.7,229.8 270.0,223.9 C283.3,218.0 293.1,212.4 300.8,210.1 C308.5,207.8 309.2,208.6 316.0,210.1 C322.8,211.6 337.1,217.5 341.3,219.0" stroke="#000" stroke-width="2.38" fill="none" stroke-linecap="round" stroke-linejoin="round" />
<path d="M341.9,213.7 C342.8,213.2 348.2,212.3 350.3,213.1 C352.4,213.9 361.7,220.1 363.4,221.5 C365.1,222.9 366.4,225.6 366.9,227.4 C367.4,229.2 368.3,237.6 368.1,239.3 C367.9,241.0 365.4,243.6 364.6,244.1 C363.8,244.6 360.4,244.9 359.8,244.1 C359.2,243.3 358.6,237.4 358.6,235.8 C358.6,234.2 360.5,230.0 359.8,228.6 C359.1,227.2 353.9,223.1 352.0,222.0 C350.1,220.9 342.0,218.8 341.0,218.0 C340.0,217.2 341.0,214.2 341.9,213.7 Z" stroke="#000" stroke-width="2.25" fill="#fff" stroke-linecap="round" stroke-linejoin="round" />
<path d="M351.5,222.6 L362.2,227.4 L361.0,233.4 L351.5,229.8 Z" stroke="#000" stroke-width="2.00" fill="none" stroke-linecap="round" stroke-linejoin="round" />
<path d="M340.7,216.7 L338.9,233.4" stroke="#000" stroke-width="2.00" fill="none" stroke-linecap="round" stroke-linejoin="round" stroke-dasharray="1.5 2.5"/>
<path d="M344.0,222.0 L343.0,232.0" stroke="#000" stroke-width="1.75" fill="none" stroke-linecap="round" stroke-linejoin="round" stroke-dasharray="1.5 2.5"/>
<path d="M362.0,229.0 L362.0,243.0" stroke="#000" stroke-width="2.75" fill="none" stroke-linecap="round" stroke-linejoin="round" />
<path d="M366.7,233.0 C370.9,236.8 386.9,250.2 392.0,255.7 C397.1,261.2 396.4,263.3 397.0,265.9 C397.6,268.4 397.6,266.8 395.4,271.0 C393.2,275.2 387.5,284.5 384.0,291.0 C380.5,297.5 376.1,307.0 374.5,310.2" stroke="#000" stroke-width="2.38" fill="none" stroke-linecap="round" stroke-linejoin="round" />
<path d="M374.5,310.2 L376.0,325.0 L377.5,338.6" stroke="#000" stroke-width="2.12" fill="none" stroke-linecap="round" stroke-linejoin="round" />
<path d="M377.5,338.6 C375.0,341.1 366.8,348.1 362.6,353.5 C358.4,358.9 354.4,365.6 352.2,371.3 C350.0,377.0 348.9,383.1 349.2,387.5 C349.4,391.9 351.0,393.4 353.7,397.9 C356.4,402.4 361.6,409.1 365.6,414.3 C369.6,419.5 374.3,425.0 377.5,429.2 C380.7,433.4 383.1,435.8 385.0,439.6 C386.9,443.4 388.3,448.0 389.0,452.0 C389.7,456.0 389.6,458.8 389.4,463.5 C389.2,468.2 389.7,475.3 388.0,480.0 C386.3,484.7 383.3,484.6 379.4,491.5 C375.5,498.4 368.5,513.4 364.6,521.1 C360.7,528.9 357.5,535.2 356.1,538.0" stroke="#000" stroke-width="2.38" fill="none" stroke-linecap="round" stroke-linejoin="round" />
<path d="M374.5,310.2 C373.0,312.7 369.3,318.5 365.6,325.0 C361.9,331.5 356.2,342.0 352.2,349.0 C348.2,356.0 344.8,361.4 341.7,366.9 C338.6,372.4 334.6,378.3 333.5,382.0 C332.4,385.7 333.1,386.1 335.0,389.0 C336.9,391.9 340.8,394.4 344.7,399.4 C348.6,404.3 353.9,412.8 358.1,418.7 C362.3,424.6 366.3,431.1 370.0,435.1 C373.7,439.1 377.8,440.1 380.5,442.6 C383.2,445.1 385.1,448.8 386.0,450.0" stroke="#000" stroke-width="2.12" fill="none" stroke-linecap="round" stroke-linejoin="round" />
<path d="M371.5,295.3 C368.3,299.5 358.1,312.8 352.2,320.7 C346.2,328.6 340.8,335.3 335.8,343.0 C330.8,350.7 325.6,361.2 322.4,366.9 C319.2,372.6 317.5,374.4 316.4,377.3 C315.2,380.2 315.0,381.6 315.5,384.0 C316.0,386.4 316.5,387.6 319.4,391.9 C322.3,396.2 327.8,403.6 332.8,409.8 C337.8,416.0 344.7,423.5 349.2,429.2 C353.7,434.9 356.4,440.9 359.6,444.1 C362.8,447.3 365.6,447.4 368.6,448.6 C371.6,449.8 375.0,449.5 377.5,451.5 C380.0,453.5 382.2,457.5 383.5,460.5 C384.8,463.5 384.8,467.9 385.0,469.4" stroke="#000" stroke-width="2.25" fill="none" stroke-linecap="round" stroke-linejoin="round" />
<path d="M374.7,297.7 C371.5,301.9 361.3,315.2 355.4,323.1 C349.5,331.0 344.1,337.5 339.2,345.2 C334.2,352.8 329.1,363.3 325.9,368.9 C322.7,374.5 321.2,376.4 320.1,378.8 C319.0,381.2 319.0,381.4 319.4,383.2 C319.9,385.0 320.0,385.7 322.7,389.7 C325.5,393.7 331.0,401.1 335.9,407.3 C340.9,413.5 347.9,421.1 352.4,426.7 C356.8,432.4 359.4,438.2 362.4,441.3 C365.4,444.3 369.1,444.4 370.4,445.0" stroke="#000" stroke-width="1.25" fill="none" stroke-linecap="round" stroke-linejoin="round" stroke-dasharray="4 3"/>
<path d="M377.0,454.0 C377.8,454.5 380.3,455.3 381.5,457.0 C382.7,458.7 383.6,462.8 384.0,464.0" stroke="#000" stroke-width="4.00" fill="none" stroke-linecap="round" stroke-linejoin="round" />
<ellipse cx="265" cy="351.7" rx="3.6" ry="4.32" stroke="#000" stroke-width="1.5" fill="#fff"/>
<ellipse cx="302.7" cy="377.2" rx="3.6" ry="4.32" stroke="#000" stroke-width="1.5" fill="#fff"/>
<ellipse cx="199.4" cy="389.2" rx="3.4" ry="4.08" stroke="#000" stroke-width="1.5" fill="#fff"/>
<ellipse cx="113" cy="399" rx="3.6" ry="4.32" stroke="#000" stroke-width="1.5" fill="#fff"/>
<ellipse cx="320.2" cy="574" rx="3.2" ry="3.84" stroke="#000" stroke-width="1.5" fill="#fff"/>
<path d="M310,216 Q314,220 318,216" stroke="#000" stroke-width="1.50" fill="none" stroke-linecap="round" stroke-linejoin="round" />
<path d="M375,253 Q379,258 383,254" stroke="#000" stroke-width="1.50" fill="none" stroke-linecap="round" stroke-linejoin="round" />
<path d="M280.5,238.0 C279.6,242.0 277.1,253.6 275.0,262.0 C272.9,270.4 269.2,284.2 268.0,288.7" stroke="#000" stroke-width="1.38" fill="none" stroke-linecap="round" stroke-linejoin="round" stroke-dasharray="5 3"/>
<path d="M280.5,238.0 C286.2,240.3 303.8,246.3 315.0,252.0 C326.2,257.7 339.4,264.6 348.0,272.0 C356.6,279.4 363.6,292.2 366.7,296.3" stroke="#000" stroke-width="1.38" fill="none" stroke-linecap="round" stroke-linejoin="round" stroke-dasharray="5 3"/>
<path d="M295.0,233.0 C300.8,234.7 319.2,238.2 330.0,243.0 C340.8,247.8 353.2,255.0 360.0,262.0 C366.8,269.0 369.9,279.3 371.0,285.0 C372.1,290.7 367.4,294.4 366.7,296.3" stroke="#000" stroke-width="1.38" fill="none" stroke-linecap="round" stroke-linejoin="round" stroke-dasharray="5 3"/>
<path d="M326.0,293.7 C330.0,294.1 343.2,295.6 350.0,296.0 C356.8,296.4 363.9,296.2 366.7,296.3" stroke="#000" stroke-width="1.38" fill="none" stroke-linecap="round" stroke-linejoin="round" stroke-dasharray="5 3"/>
<path d="M245.0,253.0 L262.8,245.6" stroke="#000" stroke-width="1.38" fill="none" stroke-linecap="round" stroke-linejoin="round" stroke-dasharray="5 3"/>
<path d="M262.7,245.3 C255.6,248.8 233.5,259.4 220.0,266.0 C206.5,272.6 188.0,281.6 181.6,284.7" stroke="#000" stroke-width="1.38" fill="none" stroke-linecap="round" stroke-linejoin="round" stroke-dasharray="8 6"/>
<path d="M283.0,236.0 C284.2,235.0 287.2,230.5 290.0,230.0 C292.8,229.5 298.3,232.5 300.0,233.0" stroke="#000" stroke-width="1.25" fill="none" stroke-linecap="round" stroke-linejoin="round" stroke-dasharray="5 3"/>
<path d="M129.4,265.4 C130.5,263.6 131.6,261.6 135.6,261.8 C139.7,261.9 150.7,264.5 156.5,266.5 C162.3,268.4 171.0,272.6 174.2,274.8 C177.5,277.0 178.4,279.5 178.4,281.1 C178.4,282.6 176.7,284.6 174.2,285.3 C171.7,285.9 166.7,286.0 161.7,285.3 C156.7,284.5 145.9,281.8 140.9,280.0 C135.9,278.3 130.1,276.0 128.3,273.8 C126.6,271.6 128.3,267.2 129.4,265.4 Z" stroke="#000" stroke-width="2.38" fill="#fff" stroke-linecap="round" stroke-linejoin="round" />
<path d="M135.6,270.6 C138.8,271.0 147.6,271.0 154.4,272.7 C161.2,274.5 172.7,279.7 176.3,281.1" stroke="#000" stroke-width="1.50" fill="none" stroke-linecap="round" stroke-linejoin="round" />
<path d="M138.8,275.9 C140.9,276.4 148.7,277.6 151.3,279.0 C153.9,280.4 153.9,283.3 154.4,284.2" stroke="#000" stroke-width="1.88" fill="none" stroke-linecap="round" stroke-linejoin="round" />
<path d="M137.7,293.6 L164.9,287.3 L169.0,290.5 L172.2,303.0 L169.0,310.3 L156.5,314.5 L151.3,321.8 L144.0,320.7 L140.9,313.4 L139.8,300.9 Z" stroke="#000" stroke-width="2.38" fill="#fff" stroke-linecap="round" stroke-linejoin="round" />
<path d="M139.8,300.9 L154.4,296.7 L169.0,292.6" stroke="#000" stroke-width="1.75" fill="none" stroke-linecap="round" stroke-linejoin="round" />
<path d="M154.4,298.8 L155.5,313.4" stroke="#000" stroke-width="1.50" fill="none" stroke-linecap="round" stroke-linejoin="round" />
<path d="M127.3,300.9 L137.7,294.6 L140.9,300.9 L129.4,309.2 Z" stroke="#000" stroke-width="2.25" fill="#fff" stroke-linecap="round" stroke-linejoin="round" />
<ellipse cx="148.2" cy="307.5" rx="5.2" ry="6.4" stroke="#000" stroke-width="2.2" fill="#fff"/>
<ellipse cx="148" cy="308" rx="2" ry="3" stroke="#000" stroke-width="1.5" fill="none"/>
<path d="M194.0,288.2 C197.0,287.9 206.2,285.5 212.0,286.6 C217.8,287.7 225.8,293.4 228.5,294.8" stroke="#000" stroke-width="1.38" fill="none" stroke-linecap="round" stroke-linejoin="round" stroke-dasharray="4 2.5"/>
<path d="M228.5,294.8 C228.8,296.4 231.1,301.6 230.0,304.6 C228.9,307.6 225.5,310.4 222.0,312.8 C218.5,315.2 213.6,318.2 208.9,319.3 C204.2,320.4 196.5,319.3 194.0,319.3" stroke="#000" stroke-width="1.88" fill="none" stroke-linecap="round" stroke-linejoin="round" />
<path d="M194.0,288.2 L192.0,296.0" stroke="#000" stroke-width="1.38" fill="none" stroke-linecap="round" stroke-linejoin="round" />
<ellipse cx="198" cy="305.4" rx="7.5" ry="7.8" stroke="#000" stroke-width="2.2" fill="#fff"/>
<ellipse cx="197.5" cy="305.5" rx="3.4" ry="3.6" stroke="#000" stroke-width="1.5" fill="none"/>
<path d="M260.6,294.8 C260.1,289.8 264.6,292.9 266.8,292.6 C269.1,292.3 270.7,291.6 274.0,293.1 C277.3,294.5 283.5,298.3 286.5,301.1 C289.5,303.9 291.4,307.2 291.9,310.0 C292.3,312.9 291.0,316.0 289.2,318.1 C287.4,320.2 283.7,321.7 281.1,322.6 C278.6,323.5 275.9,323.5 274.0,323.5 C272.1,323.5 271.8,327.3 269.5,322.6 C267.3,317.8 261.0,299.8 260.6,294.8 Z" stroke="#000" stroke-width="2.38" fill="#fff" stroke-linecap="round" stroke-linejoin="round" />
<path d="M248.9,298.4 L261.5,297.5 L262.4,306.5 L249.4,306.5 Z" stroke="#000" stroke-width="2.25" fill="#fff" stroke-linecap="round" stroke-linejoin="round" />
<path d="M266.8,300.2 C268.3,300.7 273.8,301.0 275.8,302.9 C277.7,304.8 278.5,308.9 278.5,311.8 C278.5,314.8 276.2,319.3 275.8,320.8" stroke="#000" stroke-width="1.75" fill="none" stroke-linecap="round" stroke-linejoin="round" />
<path d="M260.6,296.6 C260.9,297.4 261.8,299.3 262.4,301.1 C263.0,302.9 263.9,306.3 264.2,307.4" stroke="#000" stroke-width="1.88" fill="none" stroke-linecap="round" stroke-linejoin="round" />
<path d="M247.2,328.8 L257.9,319.0 L263.3,310.0 L267.7,305.6 L272.2,308.3 L269.5,314.5 L263.3,324.4 L257.9,327.9 L250.7,331.5 Z" stroke="#000" stroke-width="2.25" fill="#fff" stroke-linecap="round" stroke-linejoin="round" />
<path d="M257.9,333.3 L266.8,326.1 L270.4,316.3 L275.8,313.6 L274.9,322.6 L268.6,329.7 L261.5,335.1 Z" stroke="#000" stroke-width="2.25" fill="#fff" stroke-linecap="round" stroke-linejoin="round" />
<path d="M263.3,330.6 C265.3,330.3 271.6,329.6 275.8,328.8 C280.0,328.1 286.2,326.6 288.3,326.1" stroke="#000" stroke-width="1.88" fill="none" stroke-linecap="round" stroke-linejoin="round" />
<path d="M270.5,333.0 C274.6,335.7 286.9,343.7 295.0,349.0 C303.1,354.3 314.8,362.3 318.8,365.0" stroke="#000" stroke-width="1.88" fill="none" stroke-linecap="round" stroke-linejoin="round" />
<path d="M278.5,327.6 C283.0,329.4 295.9,335.6 305.3,338.3 C314.7,341.0 329.9,342.7 334.8,343.6" stroke="#000" stroke-width="1.88" fill="none" stroke-linecap="round" stroke-linejoin="round" />
<path d="M152.0,318.0 C153.3,319.0 156.5,321.6 160.0,324.0 C163.5,326.4 167.1,330.3 172.8,332.5 C178.5,334.7 187.2,337.1 194.0,337.4 C200.8,337.7 208.8,335.5 213.8,334.1 C218.8,332.7 220.8,329.6 224.0,329.0 C227.2,328.4 231.5,330.0 233.0,330.2" stroke="#000" stroke-width="1.88" fill="none" stroke-linecap="round" stroke-linejoin="round" />
<path d="M233.0,330.2 C234.8,332.4 240.0,337.3 243.6,343.6 C247.2,349.9 248.6,362.0 254.4,367.8 C260.2,373.6 269.1,373.1 278.5,378.5 C287.9,383.9 304.0,395.1 310.7,400.0 C317.4,404.9 317.4,406.7 318.8,408.0" stroke="#000" stroke-width="1.62" fill="none" stroke-linecap="round" stroke-linejoin="round" />
<path d="M211.5,382.5 C215.1,382.8 225.8,386.0 233.0,384.0 C240.2,382.0 250.8,372.8 254.4,370.5" stroke="#000" stroke-width="1.25" fill="none" stroke-linecap="round" stroke-linejoin="round" stroke-dasharray="4 3"/>
<path d="M104.0,396.0 C104.7,397.2 106.0,401.8 108.0,403.5 C110.0,405.2 112.3,406.1 116.0,406.5 C119.7,406.9 120.8,406.7 130.0,406.0 C139.2,405.3 159.8,403.2 171.5,402.5 C183.2,401.8 191.1,400.9 200.0,402.0 C208.9,403.1 216.7,405.0 225.0,409.0 C233.3,413.0 240.9,419.7 250.0,426.0 C259.1,432.3 267.9,437.6 279.8,446.8 C291.7,456.0 314.6,475.3 321.5,481.0" stroke="#000" stroke-width="2.12" fill="none" stroke-linecap="round" stroke-linejoin="round" />
<path d="M104.0,394.8 C105.2,392.6 108.2,385.0 111.5,381.3 C114.8,377.6 121.5,373.9 123.5,372.4" stroke="#000" stroke-width="2.12" fill="none" stroke-linecap="round" stroke-linejoin="round" />
<path d="M236.2,401.5 C236.7,400.7 239.5,399.7 242.0,399.6 C244.5,399.5 251.1,399.5 254.8,400.9 C258.5,402.3 264.7,406.6 269.7,409.8 C274.7,413.0 286.9,420.7 292.1,424.7 C297.3,428.7 305.3,435.6 308.5,439.6 C311.7,443.6 315.5,452.1 315.9,454.5 C316.3,456.9 312.8,457.5 311.4,457.5 C310.0,457.5 309.1,457.3 305.5,454.5 C301.9,451.7 291.4,441.6 284.6,436.6 C277.8,431.6 261.0,421.5 254.8,417.3 C248.6,413.1 240.9,407.4 238.4,405.3 C235.9,403.2 235.7,402.3 236.2,401.5 Z" stroke="#000" stroke-width="2.00" fill="none" stroke-linecap="round" stroke-linejoin="round" />
<path d="M242.0,402.0 C244.3,402.3 248.8,400.7 256.0,404.0 C263.2,407.3 276.3,415.7 285.0,422.0 C293.7,428.3 304.2,438.7 308.0,442.0" stroke="#000" stroke-width="1.25" fill="none" stroke-linecap="round" stroke-linejoin="round" stroke-dasharray="5 3"/>
<path d="M262.3,383.0 C263.5,384.5 264.7,387.5 269.7,392.0 C274.7,396.5 284.7,404.6 292.1,409.8 C299.6,415.0 310.7,421.0 314.4,423.2" stroke="#000" stroke-width="1.62" fill="none" stroke-linecap="round" stroke-linejoin="round" />
<path d="M281.6,380.0 C284.3,382.2 292.5,388.5 298.0,393.0 C303.5,397.5 311.7,404.5 314.4,406.8" stroke="#000" stroke-width="1.50" fill="none" stroke-linecap="round" stroke-linejoin="round" />
<path d="M319.0,424.0 C316.3,426.0 317.1,432.3 317.0,436.0 C316.9,439.7 317.0,443.7 318.5,446.0 C320.0,448.3 323.4,449.7 326.0,450.0 C328.6,450.3 332.0,449.7 334.0,448.0 C336.0,446.3 337.5,443.0 338.0,440.0 C338.5,437.0 337.8,432.7 337.0,430.0 C336.2,427.3 336.0,425.0 333.0,424.0 C330.0,423.0 321.7,422.0 319.0,424.0 Z" stroke="#000" stroke-width="2.25" fill="#fff" stroke-linecap="round" stroke-linejoin="round" />
<path d="M312.5,419 L322,418 L333,419.5 L335,424 L320,423 Z" stroke="#000" stroke-width="2.25" fill="#000" stroke-linecap="round" stroke-linejoin="round" />
<path d="M321.0,441.0 C321.0,439.7 320.2,435.0 321.0,433.0 C321.8,431.0 324.0,429.5 326.0,429.0 C328.0,428.5 331.8,429.8 333.0,430.0" stroke="#000" stroke-width="1.62" fill="none" stroke-linecap="round" stroke-linejoin="round" />
<path d="M323,427 L330,426" stroke="#000" stroke-width="1.50" fill="none" stroke-linecap="round" stroke-linejoin="round" />
<path d="M317.5,447.0 C318.2,448.2 319.9,452.3 322.0,454.0 C324.1,455.7 327.7,457.3 330.0,457.0 C332.3,456.7 335.0,453.7 336.0,452.0 C337.0,450.3 336.0,447.8 336.0,447.0" stroke="#000" stroke-width="2.00" fill="#fff" stroke-linecap="round" stroke-linejoin="round" />
<path d="M318.4,405 L319,417" stroke="#000" stroke-width="2.25" fill="none" stroke-linecap="round" stroke-linejoin="round" />
<path d="M343,446 Q348,443 352,440" stroke="#000" stroke-width="1.75" fill="none" stroke-linecap="round" stroke-linejoin="round" />
<path d="M150.4,321.6 L208.5,339.0 L216.3,337.1 L214.3,346.8 L191.0,377.8 L175.6,391.4 L167.8,393.3 L123.3,372.0 L125.2,362.3 Z" stroke="#000" stroke-width="2.00" fill="#fff" stroke-linecap="round" stroke-linejoin="round" />
<path d="M155.5,328.0 L198.0,345.5 L173.0,383.5 L130.0,366.0 Z" stroke="#000" stroke-width="2.25" fill="url(#mesh)" stroke-linecap="round" stroke-linejoin="round" />
<path d="M154.3,325.5 L198.8,344.9" stroke="#000" stroke-width="3.00" fill="none" stroke-linecap="round" stroke-linejoin="round" />
<path d="M127.1,366.2 L173.6,385.6 L198.8,344.9" stroke="#000" stroke-width="1.88" fill="none" stroke-linecap="round" stroke-linejoin="round" />
<path d="M123.3,372.0 L111.6,385.6 L107.8,393.3 L109.7,403.0 L119.4,406.9" stroke="#000" stroke-width="2.12" fill="none" stroke-linecap="round" stroke-linejoin="round" />
<g transform="translate(96.5,372.5) rotate(18)"><rect x="-8" y="-5.5" width="16" height="11" rx="1.5" fill="#000"/><rect x="-1" y="-3" width="6.5" height="6" fill="#fff"/><rect x="1" y="-1" width="2.5" height="2.5" fill="#000"/></g>
<path d="M376.9,496.7 C384.9,504.4 410.5,527.3 425.0,543.0 C439.5,558.7 457.3,583.1 463.8,591.1" stroke="#000" stroke-width="2.38" fill="none" stroke-linecap="round" stroke-linejoin="round" />
<path d="M364.4,519.6 C368.0,522.2 378.8,530.6 386.3,535.3 C393.8,540.0 402.8,544.1 409.2,547.8 C415.6,551.4 419.0,553.2 425.0,557.2 C431.0,561.2 438.5,566.4 445.0,572.0 C451.5,577.6 460.7,587.9 463.8,591.1" stroke="#000" stroke-width="2.38" fill="none" stroke-linecap="round" stroke-linejoin="round" />
<path d="M388.4,513.4 L425.0,548.8 L458.0,584.0" stroke="#000" stroke-width="1.38" fill="none" stroke-linecap="round" stroke-linejoin="round" stroke-dasharray="4 4"/>
<path d="M370.6,516.5 L386.3,531.1" stroke="#000" stroke-width="2.00" fill="none" stroke-linecap="round" stroke-linejoin="round" />
<path d="M329.8,462.0 L356.6,473.8 L359.6,482.8 L340.2,529.0 L326.8,540.9 L316.4,520.0 L312.0,506.6 L322.4,479.8 Z" stroke="#000" stroke-width="1.88" fill="url(#rmesh)" stroke-linecap="round" stroke-linejoin="round" />
<path d="M322.4,479.8 L315.0,506.0 L318.0,522.0 L327.0,537.0" stroke="#000" stroke-width="1.75" fill="none" stroke-linecap="round" stroke-linejoin="round" />
<path d="M329.8,460.5 C332.3,461.2 338.1,463.2 345.0,465.0 C351.9,466.8 366.6,469.8 371.5,471.0 C376.4,472.2 374.0,471.8 374.5,472.0" stroke="#000" stroke-width="2.00" fill="none" stroke-linecap="round" stroke-linejoin="round" />
<path d="M370.0,462.0 C368.8,468.7 366.0,488.2 362.5,502.0 C359.0,515.8 351.2,537.8 349.0,545.0" stroke="#000" stroke-width="1.38" fill="none" stroke-linecap="round" stroke-linejoin="round" stroke-dasharray="4 2.5"/>
<path d="M379.0,459.0 C377.8,465.4 375.7,483.2 371.5,497.5 C367.3,511.8 356.6,537.1 353.6,545.0" stroke="#000" stroke-width="1.38" fill="none" stroke-linecap="round" stroke-linejoin="round" stroke-dasharray="4 2.5"/>
<path d="M312.0,506.6 C312.1,512.2 312.5,529.8 312.7,540.0 C312.9,550.2 312.6,561.7 313.0,568.0 C313.4,574.3 313.5,575.7 315.0,578.0 C316.5,580.3 319.5,581.7 322.0,582.0 C324.5,582.3 326.8,582.5 330.0,580.0 C333.2,577.5 337.8,572.2 341.0,567.0 C344.2,561.8 346.5,553.8 349.0,549.0 C351.5,544.2 354.8,539.8 356.0,538.0" stroke="#000" stroke-width="2.25" fill="none" stroke-linecap="round" stroke-linejoin="round" />
<path d="M327.0,540.9 C328.3,540.8 332.0,540.1 335.0,540.0 C338.0,539.9 343.3,540.0 345.0,540.0" stroke="#000" stroke-width="1.62" fill="none" stroke-linecap="round" stroke-linejoin="round" />
<path d="M110.9,510.5 C109.3,512.9 105.2,520.7 101.3,524.9 C97.5,529.2 92.1,532.3 88.0,536.1 C83.9,539.9 79.3,543.0 76.7,547.9 C74.0,552.9 72.7,563.0 71.9,566.0 M108.9,509.2 C107.4,511.6 103.4,519.3 99.7,523.5 C95.9,527.7 90.6,530.6 86.5,534.6 C82.3,538.5 77.6,541.8 74.8,547.0 C72.1,552.1 70.8,562.4 69.9,565.5 M107.0,508.0 C105.5,510.3 101.7,517.8 98.0,522.0 C94.3,526.2 89.2,529.0 85.0,533.0 C80.8,537.0 75.8,540.7 73.0,546.0 C70.2,551.3 68.8,561.8 68.0,565.0 M105.1,506.8 C103.6,509.1 99.9,516.4 96.3,520.5 C92.7,524.6 87.7,527.4 83.5,531.4 C79.3,535.5 74.1,539.5 71.2,545.0 C68.3,550.5 66.9,561.2 66.1,564.5 M103.1,505.5 C101.7,507.8 98.2,515.0 94.7,519.1 C91.1,523.1 86.2,525.7 82.0,529.9 C77.8,534.1 72.3,538.4 69.3,544.1 C66.4,549.7 65.0,560.7 64.1,564.0" stroke="#000" stroke-width="3.1" fill="none" stroke-linecap="round" stroke-linejoin="round"/>
<path d="M110.9,510.5 C109.3,512.9 105.2,520.7 101.3,524.9 C97.5,529.2 92.1,532.3 88.0,536.1 C83.9,539.9 79.3,543.0 76.7,547.9 C74.0,552.9 72.7,563.0 71.9,566.0 M108.9,509.2 C107.4,511.6 103.4,519.3 99.7,523.5 C95.9,527.7 90.6,530.6 86.5,534.6 C82.3,538.5 77.6,541.8 74.8,547.0 C72.1,552.1 70.8,562.4 69.9,565.5 M107.0,508.0 C105.5,510.3 101.7,517.8 98.0,522.0 C94.3,526.2 89.2,529.0 85.0,533.0 C80.8,537.0 75.8,540.7 73.0,546.0 C70.2,551.3 68.8,561.8 68.0,565.0 M105.1,506.8 C103.6,509.1 99.9,516.4 96.3,520.5 C92.7,524.6 87.7,527.4 83.5,531.4 C79.3,535.5 74.1,539.5 71.2,545.0 C68.3,550.5 66.9,561.2 66.1,564.5 M103.1,505.5 C101.7,507.8 98.2,515.0 94.7,519.1 C91.1,523.1 86.2,525.7 82.0,529.9 C77.8,534.1 72.3,538.4 69.3,544.1 C66.4,549.7 65.0,560.7 64.1,564.0" stroke="#fff" stroke-width="0.9" fill="none" stroke-linecap="round" stroke-linejoin="round"/>
<path d="M56.4,571.5 L75.8,570.0 L76.5,576.0 L80.2,574.5 L80.2,593.9 L68.3,596.9 L66.1,605.8 L59.4,606.6 L57.9,595.4 Z" stroke="#000" stroke-width="2.25" fill="#fff" stroke-linecap="round" stroke-linejoin="round" />
<path d="M62.4,571.5 L62.4,595.4" stroke="#000" stroke-width="1.62" fill="none" stroke-linecap="round" stroke-linejoin="round" />
<path d="M69.8,580.5 L71.3,595.4" stroke="#000" stroke-width="1.50" fill="none" stroke-linecap="round" stroke-linejoin="round" />
<path d="M76.5,576.0 L76.5,594.0" stroke="#000" stroke-width="1.50" fill="none" stroke-linecap="round" stroke-linejoin="round" />
<path d="M66,574 Q70,577 66,581" stroke="#000" stroke-width="1.25" fill="none" stroke-linecap="round" stroke-linejoin="round" />
<path d="M60.5,563 L75.5,562 L76,570.5 L57,572 Z" fill="#000"/>
<path d="M105.0,507.0 C106.9,503.3 112.1,491.7 116.2,484.9 C120.3,478.2 123.8,472.4 129.6,466.6 C135.4,460.9 142.4,455.6 151.0,450.4 C159.6,445.2 171.5,440.3 181.2,435.5 C190.9,430.7 204.6,423.9 209.3,421.6 M107.0,508.0 C108.8,504.3 114.0,492.7 118.0,486.0 C122.0,479.3 125.3,473.7 131.0,468.0 C136.7,462.3 143.5,457.2 152.0,452.0 C160.5,446.8 172.3,441.8 182.0,437.0 C191.7,432.2 205.3,425.3 210.0,423.0 M109.0,509.0 C110.8,505.3 115.9,493.7 119.8,487.1 C123.7,480.5 126.9,475.0 132.4,469.4 C137.9,463.8 144.6,458.7 153.0,453.6 C161.4,448.4 173.1,443.4 182.8,438.5 C192.4,433.7 206.1,426.8 210.7,424.4 M108.0,508.0 C110.2,504.2 116.0,491.7 121.0,485.0 C126.0,478.3 130.7,473.5 138.0,468.0 C145.3,462.5 155.5,456.7 165.0,452.0 C174.5,447.3 186.7,443.2 195.0,440.0 C203.3,436.8 211.7,434.2 215.0,433.0 M109.9,509.1 C112.0,505.3 117.8,492.8 122.7,486.2 C127.5,479.7 132.0,475.0 139.2,469.6 C146.4,464.1 156.4,458.3 165.8,453.7 C175.2,449.0 187.3,444.8 195.6,441.6 C203.9,438.4 212.2,435.7 215.5,434.5 M109.0,506.0 C111.5,502.8 117.5,493.0 124.0,487.0 C130.5,481.0 138.3,475.3 148.0,470.0 C157.7,464.7 171.3,459.2 182.0,455.0 C192.7,450.8 204.8,447.3 212.0,445.0 C219.2,442.7 222.8,441.7 225.0,441.0 M110.7,507.4 C113.2,504.2 119.0,494.5 125.4,488.5 C131.8,482.6 139.4,477.0 148.9,471.7 C158.5,466.4 172.1,460.9 182.7,456.7 C193.3,452.5 205.4,449.0 212.5,446.6 C219.7,444.3 223.3,443.2 225.5,442.5" stroke="#000" stroke-width="3.5" fill="none" stroke-linecap="round" stroke-linejoin="round"/>
<path d="M105.0,507.0 C106.9,503.3 112.1,491.7 116.2,484.9 C120.3,478.2 123.8,472.4 129.6,466.6 C135.4,460.9 142.4,455.6 151.0,450.4 C159.6,445.2 171.5,440.3 181.2,435.5 C190.9,430.7 204.6,423.9 209.3,421.6 M107.0,508.0 C108.8,504.3 114.0,492.7 118.0,486.0 C122.0,479.3 125.3,473.7 131.0,468.0 C136.7,462.3 143.5,457.2 152.0,452.0 C160.5,446.8 172.3,441.8 182.0,437.0 C191.7,432.2 205.3,425.3 210.0,423.0 M109.0,509.0 C110.8,505.3 115.9,493.7 119.8,487.1 C123.7,480.5 126.9,475.0 132.4,469.4 C137.9,463.8 144.6,458.7 153.0,453.6 C161.4,448.4 173.1,443.4 182.8,438.5 C192.4,433.7 206.1,426.8 210.7,424.4 M108.0,508.0 C110.2,504.2 116.0,491.7 121.0,485.0 C126.0,478.3 130.7,473.5 138.0,468.0 C145.3,462.5 155.5,456.7 165.0,452.0 C174.5,447.3 186.7,443.2 195.0,440.0 C203.3,436.8 211.7,434.2 215.0,433.0 M109.9,509.1 C112.0,505.3 117.8,492.8 122.7,486.2 C127.5,479.7 132.0,475.0 139.2,469.6 C146.4,464.1 156.4,458.3 165.8,453.7 C175.2,449.0 187.3,444.8 195.6,441.6 C203.9,438.4 212.2,435.7 215.5,434.5 M109.0,506.0 C111.5,502.8 117.5,493.0 124.0,487.0 C130.5,481.0 138.3,475.3 148.0,470.0 C157.7,464.7 171.3,459.2 182.0,455.0 C192.7,450.8 204.8,447.3 212.0,445.0 C219.2,442.7 222.8,441.7 225.0,441.0 M110.7,507.4 C113.2,504.2 119.0,494.5 125.4,488.5 C131.8,482.6 139.4,477.0 148.9,471.7 C158.5,466.4 172.1,460.9 182.7,456.7 C193.3,452.5 205.4,449.0 212.5,446.6 C219.7,444.3 223.3,443.2 225.5,442.5" stroke="#fff" stroke-width="0.8" fill="none" stroke-linecap="round" stroke-linejoin="round"/>
<g transform="translate(216,420) rotate(-33)"><rect x="-8.0" y="-4.25" width="16" height="8.5" rx="3.8" stroke="#000" stroke-width="2.5" fill="#fff"/><path d="M-5.0,-3.25 L-5.0,3.25" stroke="#000" stroke-width="1.2"/></g>
<g transform="translate(221,432.5) rotate(-30)"><rect x="-8.0" y="-4.25" width="16" height="8.5" rx="3.8" stroke="#000" stroke-width="2.5" fill="#fff"/><path d="M-5.0,-3.25 L-5.0,3.25" stroke="#000" stroke-width="1.2"/></g>
<g transform="translate(231,440.5) rotate(-30)"><rect x="-8.0" y="-4.25" width="16" height="8.5" rx="3.8" stroke="#000" stroke-width="2.5" fill="#fff"/><path d="M-5.0,-3.25 L-5.0,3.25" stroke="#000" stroke-width="1.2"/></g>
<path d="M104.3,503.9 C106.8,500.6 113.5,490.5 119.5,484.5 C125.6,478.5 132.1,471.9 140.5,467.9 C148.9,463.8 159.8,460.7 169.9,460.5 C180.1,460.3 190.0,462.3 201.3,466.7 C212.5,471.1 227.2,482.3 237.4,486.7 C247.6,491.2 254.5,492.5 262.4,493.4 C270.3,494.4 281.1,492.6 284.8,492.4 M106.1,505.3 C108.6,502.1 115.3,492.1 121.2,486.2 C127.1,480.3 133.4,473.8 141.5,470.0 C149.6,466.1 160.2,463.0 170.0,462.8 C179.8,462.7 189.3,464.6 200.4,468.9 C211.5,473.3 226.2,484.4 236.5,488.9 C246.8,493.4 254.1,494.8 262.1,495.8 C270.2,496.8 281.1,495.0 284.9,494.8 M107.9,506.7 C110.4,503.6 117.1,493.6 122.8,487.8 C128.6,482.0 134.6,475.8 142.5,472.0 C150.4,468.3 160.5,465.3 170.0,465.2 C179.5,465.0 188.7,466.8 199.6,471.1 C210.5,475.4 225.1,486.6 235.5,491.1 C245.9,495.6 253.6,497.2 261.9,498.2 C270.1,499.2 281.2,497.4 285.1,497.2 M109.7,508.1 C112.2,505.0 118.8,495.1 124.5,489.5 C130.1,483.8 135.9,477.8 143.5,474.1 C151.1,470.5 160.9,467.7 170.1,467.5 C179.3,467.4 188.0,469.0 198.7,473.3 C209.5,477.6 224.1,488.7 234.6,493.3 C245.1,497.8 253.1,499.5 261.6,500.6 C270.0,501.6 281.2,499.8 285.2,499.6" stroke="#000" stroke-width="3.3" fill="none" stroke-linecap="round" stroke-linejoin="round"/>
<path d="M104.3,503.9 C106.8,500.6 113.5,490.5 119.5,484.5 C125.6,478.5 132.1,471.9 140.5,467.9 C148.9,463.8 159.8,460.7 169.9,460.5 C180.1,460.3 190.0,462.3 201.3,466.7 C212.5,471.1 227.2,482.3 237.4,486.7 C247.6,491.2 254.5,492.5 262.4,493.4 C270.3,494.4 281.1,492.6 284.8,492.4 M106.1,505.3 C108.6,502.1 115.3,492.1 121.2,486.2 C127.1,480.3 133.4,473.8 141.5,470.0 C149.6,466.1 160.2,463.0 170.0,462.8 C179.8,462.7 189.3,464.6 200.4,468.9 C211.5,473.3 226.2,484.4 236.5,488.9 C246.8,493.4 254.1,494.8 262.1,495.8 C270.2,496.8 281.1,495.0 284.9,494.8 M107.9,506.7 C110.4,503.6 117.1,493.6 122.8,487.8 C128.6,482.0 134.6,475.8 142.5,472.0 C150.4,468.3 160.5,465.3 170.0,465.2 C179.5,465.0 188.7,466.8 199.6,471.1 C210.5,475.4 225.1,486.6 235.5,491.1 C245.9,495.6 253.6,497.2 261.9,498.2 C270.1,499.2 281.2,497.4 285.1,497.2 M109.7,508.1 C112.2,505.0 118.8,495.1 124.5,489.5 C130.1,483.8 135.9,477.8 143.5,474.1 C151.1,470.5 160.9,467.7 170.1,467.5 C179.3,467.4 188.0,469.0 198.7,473.3 C209.5,477.6 224.1,488.7 234.6,493.3 C245.1,497.8 253.1,499.5 261.6,500.6 C270.0,501.6 281.2,499.8 285.2,499.6" stroke="#fff" stroke-width="0.9" fill="none" stroke-linecap="round" stroke-linejoin="round"/>
<g transform="translate(289.5,491) rotate(-25)"><rect x="-8.0" y="-4.25" width="16" height="8.5" rx="3.8" stroke="#000" stroke-width="2.5" fill="#fff"/><path d="M-5.0,-3.25 L-5.0,3.25" stroke="#000" stroke-width="1.2"/></g>
<g transform="translate(301.5,496.5) rotate(-25)"><rect x="-8.0" y="-4.25" width="16" height="8.5" rx="3.8" stroke="#000" stroke-width="2.5" fill="#fff"/><path d="M-5.0,-3.25 L-5.0,3.25" stroke="#000" stroke-width="1.2"/></g>
<path d="M104.0,510.0 C103.5,506.7 101.3,497.2 101.0,490.0 C100.7,482.8 100.7,473.7 102.0,467.0 C103.3,460.3 106.2,454.7 109.0,450.0 C111.8,445.3 116.3,441.7 119.0,439.0 C121.7,436.3 124.0,434.8 125.0,434.0" stroke="#000" stroke-width="3.8" fill="none" stroke-linecap="round" stroke-linejoin="round"/>
<path d="M104.0,510.0 C103.5,506.7 101.3,497.2 101.0,490.0 C100.7,482.8 100.7,473.7 102.0,467.0 C103.3,460.3 106.2,454.7 109.0,450.0 C111.8,445.3 116.3,441.7 119.0,439.0 C121.7,436.3 124.0,434.8 125.0,434.0" stroke="#fff" stroke-width="0.8" fill="none" stroke-linecap="round" stroke-linejoin="round"/>
<path d="M109.0,500.0 C109.2,496.7 108.7,486.7 110.0,480.0 C111.3,473.3 114.0,465.5 117.0,460.0 C120.0,454.5 124.5,450.3 128.0,447.0 C131.5,443.7 136.3,441.2 138.0,440.0" stroke="#000" stroke-width="3.6" fill="none" stroke-linecap="round" stroke-linejoin="round"/>
<path d="M109.0,500.0 C109.2,496.7 108.7,486.7 110.0,480.0 C111.3,473.3 114.0,465.5 117.0,460.0 C120.0,454.5 124.5,450.3 128.0,447.0 C131.5,443.7 136.3,441.2 138.0,440.0" stroke="#fff" stroke-width="0.8" fill="none" stroke-linecap="round" stroke-linejoin="round"/>
<path d="M113.0,450.0 C113.8,451.2 115.7,455.3 118.0,457.0 C120.3,458.7 123.8,459.5 127.0,460.0 C130.2,460.5 134.2,460.3 137.0,460.0 C139.8,459.7 142.8,458.3 144.0,458.0" stroke="#000" stroke-width="2.00" fill="none" stroke-linecap="round" stroke-linejoin="round" />
<g transform="translate(129.5,430.5) rotate(-30)"><rect x="-8.5" y="-4.75" width="17" height="9.5" rx="3.8" stroke="#000" stroke-width="2.5" fill="#fff"/><path d="M-5.5,-3.75 L-5.5,3.75" stroke="#000" stroke-width="1.2"/></g>
<g transform="translate(143.8,436.5) rotate(-30)"><rect x="-8.5" y="-4.75" width="17" height="9.5" rx="3.8" stroke="#000" stroke-width="2.5" fill="#fff"/><path d="M-5.5,-3.75 L-5.5,3.75" stroke="#000" stroke-width="1.2"/></g>
<g transform="translate(310.8,196.5) rotate(-5)"><path d="M-9.0,-1.4 L-2.4,-8.6 L9.0,-2.4 L9.0,3.3 L1.9,9.0 L-8.6,2.9 Z" fill="#000" stroke="#000" stroke-width="1.5" stroke-linejoin="round"/><path d="M-7.1,-1.1 L-1.9,-6.5 L5.9,-1.1 L0.8,4.3 Z" fill="#fff"/><ellipse cx="-0.8" cy="-1.0" rx="2.3" ry="1.9" fill="#000"/></g>
<g transform="translate(397,241.5) rotate(-10)"><path d="M-9.0,-1.4 L-2.4,-8.6 L9.0,-2.4 L9.0,3.3 L1.9,9.0 L-8.6,2.9 Z" fill="#000" stroke="#000" stroke-width="1.5" stroke-linejoin="round"/><path d="M-7.1,-1.1 L-1.9,-6.5 L5.9,-1.1 L0.8,4.3 Z" fill="#fff"/><ellipse cx="-0.8" cy="-1.0" rx="2.3" ry="1.9" fill="#000"/></g>
<g transform="translate(89.3,402) rotate(-55)"><path d="M-10.0,-1.6 L-2.6,-9.5 L10.0,-2.6 L10.0,3.7 L2.1,10.0 L-9.5,3.1 Z" fill="#000" stroke="#000" stroke-width="1.5" stroke-linejoin="round"/><path d="M-7.9,-1.3 L-2.1,-7.1 L6.5,-1.3 L0.8,4.7 Z" fill="#fff"/><ellipse cx="-0.8" cy="-1.1" rx="2.3" ry="1.9" fill="#000"/></g>
<g transform="translate(340.5,592) rotate(-75)"><path d="M-8.5,-1.3 L-2.2,-8.1 L8.5,-2.2 L8.5,3.1 L1.8,8.5 L-8.1,2.7 Z" fill="#000" stroke="#000" stroke-width="1.5" stroke-linejoin="round"/><path d="M-6.8,-1.1 L-1.8,-6.1 L5.6,-1.1 L0.7,4.0 Z" fill="#fff"/><ellipse cx="-0.7" cy="-0.9" rx="2.3" ry="1.9" fill="#000"/></g>
<g transform="translate(340.3,201.5) rotate(-20.5)"><path d="M0,-7.2 L24.239224410034236,-7.2 A7.2,7.2 0 0 1 24.239224410034236,7.2 L0,7.2 Z" stroke="#000" stroke-width="2.2" fill="#fff"/><ellipse cx="0" cy="0" rx="4.5" ry="7.2" stroke="#000" stroke-width="2.2" fill="#fff"/><path d="M6.1,-7.2 Q10.4,0 6.1,7.2" stroke="#000" stroke-width="1.5" fill="none"/><path d="M15.0,-7.2 Q19.3,0 15.0,7.2" stroke="#000" stroke-width="1.5" fill="none"/><path d="M23.0,-2 l1.8,1.5 l-2.5,1 z" fill="#000"/></g>
<g transform="translate(477.7,369.6) rotate(-24.0)"><path d="M0,-7.0 L21.129363454680806,-7.0 A7.0,7.0 0 0 1 21.129363454680806,7.0 L0,7.0 Z" stroke="#000" stroke-width="2.2" fill="#fff"/><ellipse cx="0" cy="0" rx="4.3" ry="7.0" stroke="#000" stroke-width="2.2" fill="#fff"/><path d="M4.6,-7.0 Q8.8,0 4.6,7.0" stroke="#000" stroke-width="1.5" fill="none"/><path d="M12.7,-7.0 Q16.9,0 12.7,7.0" stroke="#000" stroke-width="1.5" fill="none"/><path d="M20.1,-2 l1.8,1.5 l-2.5,1 z" fill="#000"/></g>
<path d="M437.4,234.3 Q443,226 448.1,224.5 L457,224.5 Q464,228 466,236 Q467,243 461.5,246.8 Q456,250 444.5,249.5 Z" stroke="#000" stroke-width="2.2" fill="#fff"/>
<g transform="translate(428.6,247.8) rotate(-28)"><path d="M0,-9 L16,-9 L16,9 L0,9 Z" stroke="#000" stroke-width="2.2" fill="#fff"/><ellipse rx="6.5" ry="9" stroke="#000" stroke-width="2.2" fill="#fff"/></g>
<path d="M443,239 l2,2.5 l-1.5,3" stroke="#000" stroke-width="1.50" fill="none" stroke-linecap="round" stroke-linejoin="round" />
<path d="M453,232 l1.5,1.5 l-2,1" stroke="#000" stroke-width="1.62" fill="none" stroke-linecap="round" stroke-linejoin="round" />
<path d="M393.8,323.4 C397.7,325.2 446.7,349.3 450.5,351.7 C454.3,354.1 451.7,357.7 451.2,359.2 C450.7,360.7 443.8,373.7 443.0,374.8 C442.2,375.9 442.3,377.6 438.6,375.6 C434.9,373.6 391.0,347.7 387.9,344.3 C384.8,340.9 392.0,326.3 392.4,324.9 C392.8,323.5 389.9,321.6 393.8,323.4 Z" stroke="#000" stroke-width="2.38" fill="#fff" stroke-linecap="round" stroke-linejoin="round" />
<path d="M399.8,326.4 L449.0,354.7" stroke="#000" stroke-width="1.25" fill="none" stroke-linecap="round" stroke-linejoin="round" />
<g transform="translate(379.5,337.5) rotate(-7.9)"><path d="M0,-4.2 L20.4,-4.2 Q23.8,0 20.4,4.2 L0,4.2 Z" stroke="#000" stroke-width="2.2" fill="#fff"/><ellipse rx="2.3" ry="4.2" stroke="#000" stroke-width="2.2" fill="#fff"/></g>
<g transform="translate(418.5,362.5) rotate(-12.0)"><path d="M0,-4.2 L22.8,-4.2 Q26.1,0 22.8,4.2 L0,4.2 Z" stroke="#000" stroke-width="2.2" fill="#fff"/><ellipse rx="2.3" ry="4.2" stroke="#000" stroke-width="2.2" fill="#fff"/></g>
<g transform="translate(450,737) rotate(-20)"><ellipse rx="6" ry="7" stroke="#000" stroke-width="2" fill="#000"/><ellipse cx="-1" cy="-1.5" rx="2.2" ry="2.2" fill="#fff"/></g>
<g transform="translate(593.5,683.8) rotate(25)"><ellipse rx="8.6" ry="11.8" stroke="#000" stroke-width="2.3" fill="#fff"/><ellipse cx="0" cy="1.2" rx="3.8" ry="4.6" stroke="#000" stroke-width="3" fill="none"/><path d="M-6,-5 Q-7,0 -5,5" stroke="#000" stroke-width="1" fill="none"/></g>
<line x1="606" y1="691.3" x2="625" y2="704.7" stroke="#000" stroke-width="8" stroke-linecap="round"/>
<line x1="606" y1="691.3" x2="625" y2="704.7" stroke="#fff" stroke-width="4" stroke-linecap="round"/>
<g transform="translate(632.3,707.7) rotate(20)"><ellipse rx="7.3" ry="8.8" stroke="#000" stroke-width="2.3" fill="#fff"/><path d="M-2.5,3.5 L2.5,-3.5 M-1,-3 L3,-3" stroke="#000" stroke-width="1.4"/></g>
<path d="M54.6,948.0 L71.7,920.6 L74.7,925.8 L103.0,914.6 L105.3,916.8 L105.3,936.2 L74.7,949.6 L73.2,960.0 Z" stroke="#000" stroke-width="2.25" fill="#fff" stroke-linecap="round" stroke-linejoin="round" />
<path d="M58.0,947.0 L73.0,924.0 L75.0,930.0 L102.0,919.0" stroke="#000" stroke-width="1.25" fill="none" stroke-linecap="round" stroke-linejoin="round" />
<text x="0" y="0" font-size="14.5" font-weight="bold" letter-spacing="-0.8" transform="translate(75.5,947) rotate(-30) skewX(-12)">FWD</text>
</svg></body></html>
